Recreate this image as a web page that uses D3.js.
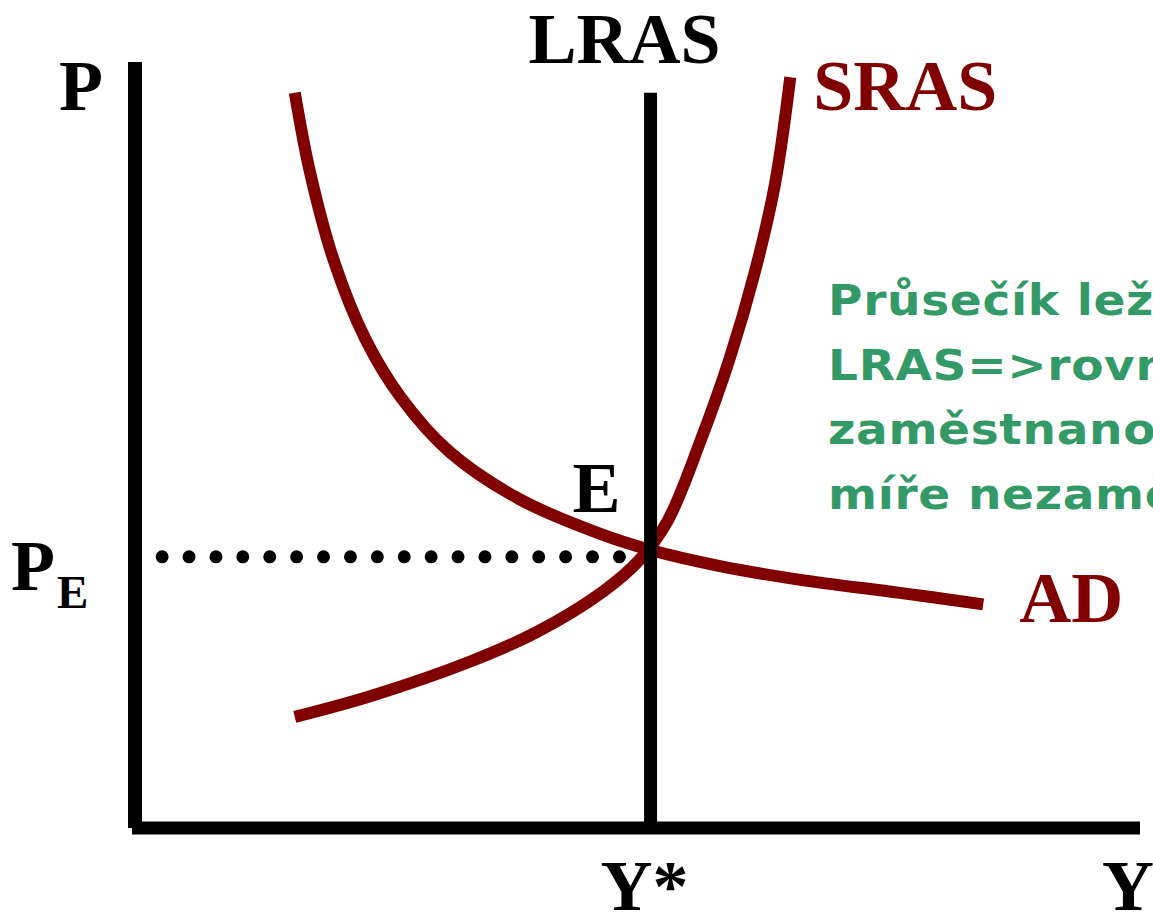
<!DOCTYPE html>
<html>
<head>
<meta charset="utf-8">
<script src="https://cdnjs.cloudflare.com/ajax/libs/d3/7.8.5/d3.min.js"></script>
<style>
  html, body { margin: 0; padding: 0; background: #fff; overflow: hidden; }
  .serif { font-family: "Liberation Serif", "Times New Roman", serif; font-weight: bold; }
  .note { font-family: "DejaVu Sans", Verdana, sans-serif; font-weight: bold; }
</style>
</head>
<body>
<div id="chart"></div>
<script>
// AD / SRAS / LRAS diagram, units: output Y 0..10, price level P 0..10
var adX  = [1.59, 1.74, 1.98, 2.29, 2.64, 3.13, 3.83, 4.63, 5.13, 5.82, 6.62, 7.61, 8.44];
var adY  = [9.60, 8.57, 7.40, 6.39, 5.63, 4.91, 4.29, 3.84, 3.63, 3.42, 3.24, 3.07, 2.92];
var srasX = [1.59, 2.34, 3.33, 4.00, 4.66, 5.02, 5.30, 5.62, 5.92, 6.17, 6.37, 6.52];
var srasY = [1.45, 1.72, 2.17, 2.56, 3.09, 3.50, 4.01, 5.03, 6.14, 7.27, 8.42, 9.80];
// potential output and equilibrium price level
var yStar = 5.13;
var lrasTop = 9.6;
var pE = 3.54;
// explanatory note (cut off by the right edge, as in the slide)
var noteLines = ["Průsečík leží na", "LRAS=>rovnováha při", "zaměstnanosti", "míře nezaměstnanosti"];

var svgWidth = 1153, svgHeight = 923;
var red = "#800000", green = "#339966";

var svg = d3.select("#chart").append("svg")
  .attr("width", svgWidth)
  .attr("height", svgHeight);

var x = d3.scaleLinear().domain([0, 10]).range([135, 1140]);
var y = d3.scaleLinear().domain([0, 10]).range([828, 62]);

// dotted guide from P axis to E
svg.append("line")
  .attr("x1", x(0.27)).attr("x2", x(yStar) - 1)
  .attr("y1", y(pE)).attr("y2", y(pE))
  .attr("stroke", "#000")
  .attr("stroke-width", 13)
  .attr("stroke-linecap", "round")
  .attr("stroke-dasharray", "0 26.9");

var line = d3.line()
  .x(d => x(d[0]))
  .y(d => y(d[1]))
  .curve(d3.curveCatmullRom.alpha(0.5));

// SRAS and AD curves
svg.append("path")
  .datum(srasX.map((v, i) => [v, srasY[i]]))
  .attr("d", line)
  .attr("fill", "none")
  .attr("stroke", red)
  .attr("stroke-width", 12);

svg.append("path")
  .datum(adX.map((v, i) => [v, adY[i]]))
  .attr("d", line)
  .attr("fill", "none")
  .attr("stroke", red)
  .attr("stroke-width", 12);

// LRAS
svg.append("line")
  .attr("x1", x(yStar)).attr("x2", x(yStar))
  .attr("y1", y(lrasTop)).attr("y2", y(0))
  .attr("stroke", "#000")
  .attr("stroke-width", 13);

// axes
svg.append("line")
  .attr("x1", x(0)).attr("x2", x(0))
  .attr("y1", y(0)).attr("y2", y(10))
  .attr("stroke", "#000")
  .attr("stroke-width", 14);

svg.append("line")
  .attr("x1", x(-0.03)).attr("x2", x(10))
  .attr("y1", y(0)).attr("y2", y(0))
  .attr("stroke", "#000")
  .attr("stroke-width", 13);

// labels
function label(txt, px, py, color, anchor) {
  return svg.append("text")
    .attr("class", "serif")
    .attr("x", px).attr("y", py)
    .attr("font-size", 72)
    .attr("fill", color || "#000")
    .attr("text-anchor", anchor || "start")
    .text(txt);
}

label("P", x(0) - 76, y(10) + 48);
label("Y", x(10) - 38, 910);
label("Y*", x(yStar) - 6, 910, "#000", "middle");
label("LRAS", x(yStar) - 26, 63, "#000", "middle");
label("SRAS", x(srasX[srasX.length - 1]) + 23, 110, red);
label("AD", x(adX[adX.length - 1]) + 36, 622, red);
label("E", x(yStar) - 78, 512);

var pLab = label("P", 11, y(pE) + 33);
pLab.append("tspan")
  .attr("font-size", 47)
  .attr("dx", 2)
  .attr("dy", 18)
  .text("E");

// green note, widened to match the Verdana-like face of the slide
svg.append("g")
  .selectAll("text")
  .data(noteLines)
  .enter().append("text")
  .attr("class", "note")
  .attr("transform", (d, i) => `translate(828, ${315 + i * 64.5}) scale(1.12, 1)`)
  .attr("font-size", 42)
  .attr("letter-spacing", 0.6)
  .attr("fill", green)
  .text(d => d);
</script>
</body>
</html>
